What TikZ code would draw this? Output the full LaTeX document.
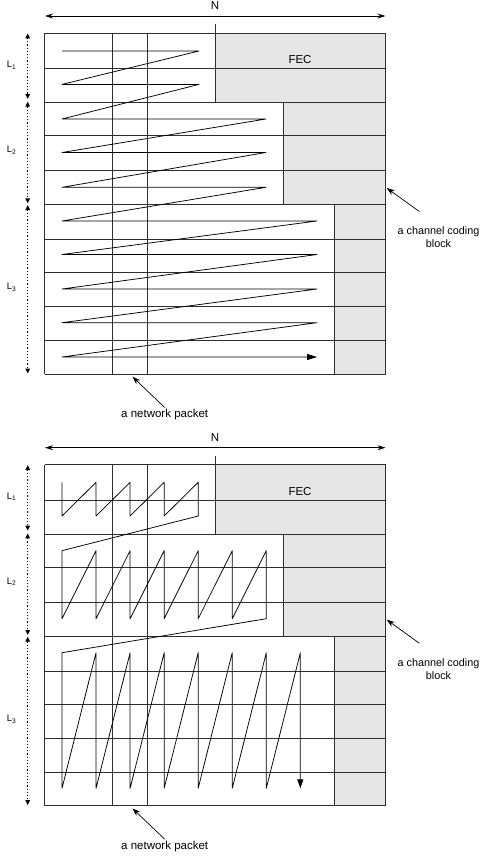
\documentclass[tikz,border=0pt]{standalone}
\usepackage{fontspec}
\setmainfont{Liberation Sans}
\usetikzlibrary{arrows.meta}
\definecolor{fecgray}{HTML}{E6E6E6}
\definecolor{gridc}{HTML}{2E2E2E}

\newcommand{\diagframe}[1]{%
  \fill[fecgray] (215,33) rectangle (385.5,102.2);
  \fill[fecgray] (283.7,102.2) rectangle (385.5,204.2);
  \fill[fecgray] (334,204.2) rectangle (385.5,374);
  \foreach \yy in {33,68.5,102.2,135.8,170.5,204.2,239.5,272.8,306.3,340.3,374}
    {\draw[gridline] (44.7,\yy) -- (385.5,\yy);}
  \foreach \xx in {44.7,112.7,147,385.5}
    {\draw[gridline] (\xx,33) -- (\xx,374);}
  \draw[gridline] (215,24) -- (215,102.2);
  \draw[gridline] (283.7,102.2) -- (283.7,204.2);
  \draw[gridline] (334,204.2) -- (334,374);
  % N dimension
  \node[lbl] (N#1) at (215,5.5) {N};
  \coordinate (Nl#1) at (45,16);
  \coordinate (Nr#1) at (385.5,16);
  \draw[narrow] (Nl#1) -- (Nr#1);
  \node[lbl] (FEC#1) at (300,59.7) {FEC};
  % L labels and dotted spans
  \node[llbl] (La#1) at (11.5,65) {L\textsubscript{1}};
  \node[llbl] (Lb#1) at (11.5,150) {L\textsubscript{2}};
  \node[llbl] (Lc#1) at (11.5,287.3) {L\textsubscript{3}};
  \coordinate (Lat#1) at (27.7,33.3);  \coordinate (Lab#1) at (27.7,99);
  \coordinate (Lbt#1) at (27.7,101.7); \coordinate (Lbb#1) at (27.7,203.3);
  \coordinate (Lct#1) at (27.7,205);   \coordinate (Lcb#1) at (27.7,373.5);
  \draw[dotarrow] (Lat#1) -- (Lab#1);
  \draw[dotarrow] (Lbt#1) -- (Lbb#1);
  \draw[dotarrow] (Lct#1) -- (Lcb#1);
  % channel coding block pointer
  \node[lbl,font=\fontsize{10.8}{13.3}\selectfont] (cc#1) at (438.5,237.4) {a channel coding\\block};
  \coordinate (cctip#1) at (386.7,188);
  \coordinate (cctail#1) at (419.3,211.5);
  \draw[ptr] (cctail#1) -- (cctip#1);
  % network packet pointer
  \node[lbl] (np#1) at (164.7,414.5) {a network packet};
  \coordinate (nptip#1) at (132.5,376.7);
  \coordinate (nptail#1) at (164.7,407.5);
  \draw[ptr] (nptail#1) -- (nptip#1);
}

\begin{document}
\begin{tikzpicture}[x=1pt,y=-1pt,
  gridline/.style={draw=gridc,line width=0.8pt},
  zig/.style={draw=black,line width=0.75pt,line join=round},
  lbl/.style={font=\fontsize{11.5}{13.3}\selectfont,inner sep=0pt,align=center},
  llbl/.style={font=\fontsize{9.5}{11}\selectfont,inner sep=0pt},
  narrow/.style={line width=0.8pt,{Stealth[length=8pt,width=5pt]}-{Stealth[length=8pt,width=5pt]}},
  dotarrow/.style={line width=1.2pt,dotted,{Triangle[length=5pt,width=4.5pt]}-{Triangle[length=5pt,width=4.5pt]}},
  ptr/.style={line width=0.7pt,-{Stealth[length=8pt,width=5.5pt]}},
  ]
\useasboundingbox (0,0) rectangle (482,862);
% ---------- top diagram ----------
\diagframe{t}
\draw[zig,-{Triangle[length=10pt,width=6pt]}]
  (62,51) -- (199,51) -- (62,84.4) -- (199,84.4)
  -- (62,119) -- (266,119) -- (62,152.5) -- (266,152.5) -- (62,187.3) -- (266,187.3)
  -- (62,221) -- (317,221) -- (62,254.5) -- (317,254.5) -- (62,289) -- (317,289)
  -- (62,322.7) -- (317,322.7) -- (62,357) -- (317,357);
% ---------- bottom diagram ----------
\begin{scope}[yshift=-431.7pt]
\diagframe{b}
\draw[zig,-{Triangle[length=9pt,width=6pt]}]
  (62,50.6) -- (62,84.3) -- (96.05,50.6) -- (96.05,84.3) -- (130.1,50.6) -- (130.1,84.3)
  -- (164.15,50.6) -- (164.15,84.3) -- (198.2,50.6) -- (198.2,84.3)
  -- (62,119) -- (62,187) -- (96.05,119) -- (96.05,187) -- (130.1,119) -- (130.1,187)
  -- (164.15,119) -- (164.15,187) -- (198.2,119) -- (198.2,187) -- (232.25,119) -- (232.25,187)
  -- (266.3,119) -- (266.3,187)
  -- (62,221) -- (62,356.6) -- (96.05,221) -- (96.05,356.6) -- (130.1,221) -- (130.1,356.6)
  -- (164.15,221) -- (164.15,356.6) -- (198.2,221) -- (198.2,356.6) -- (232.25,221) -- (232.25,356.6)
  -- (266.3,221) -- (266.3,356.6) -- (300.35,221) -- (300.35,356.6);
\end{scope}
\end{tikzpicture}
\end{document}
